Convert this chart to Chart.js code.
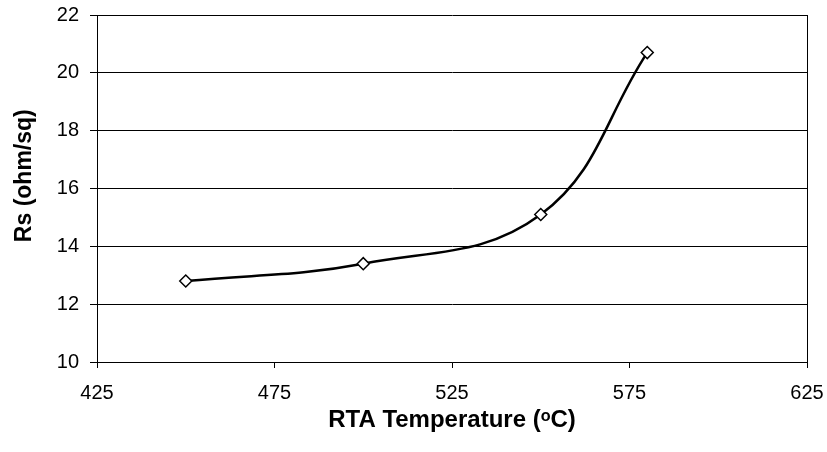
<!DOCTYPE html>
<html>
<head>
<meta charset="utf-8">
<script src="https://cdn.jsdelivr.net/npm/chart.js@4.4.1/dist/chart.umd.min.js"></script>
<style>
  html, body { margin: 0; padding: 0; background: #fff; }
  #wrap { width: 827px; height: 452px; }
</style>
</head>
<body>
<div id="wrap"><canvas id="c" width="827" height="452"></canvas></div>
<script>
const temperatures = [450, 500, 550, 580];
const rsValues = [12.8, 13.4, 15.1, 20.7];
const xTicks = [425, 475, 525, 575, 625];
const yTicks = [10, 12, 14, 16, 18, 20, 22];
const xTitle = 'RTA Temperature (ᵒC)';
const yTitle = '    Rs (ohm/sq)';

const points = temperatures.map((t, i) => ({ x: t, y: rsValues[i] }));
const font = 'Liberation Sans, Arial, Helvetica, sans-serif';

new Chart(document.getElementById('c'), {
  type: 'scatter',
  data: {
    datasets: [{
      data: points,
      showLine: true,
      borderColor: '#000',
      borderWidth: 2.5,
      tension: 0.4,
      pointStyle: 'rectRot',
      pointRadius: 6,
      pointHoverRadius: 6,
      pointBackgroundColor: '#fff',
      pointBorderColor: '#000',
      pointBorderWidth: 1.5
    }]
  },
  options: {
    responsive: false,
    animation: false,
    devicePixelRatio: 1,
    layout: { padding: { top: 15, right: 20, bottom: 0, left: 0 } },
    plugins: { legend: { display: false }, tooltip: { enabled: false } },
    scales: {
      x: {
        type: 'linear',
        min: xTicks[0],
        max: xTicks[xTicks.length - 1],
        afterBuildTicks: s => { s.ticks = xTicks.map(v => ({ value: v })); },
        afterFit: s => { s.height = 90; s.paddingLeft = 0; s.paddingRight = 0; },
        border: { display: true, color: '#000', width: 1 },
        grid: {
          drawOnChartArea: true,
          color: c => (c.tick && c.tick.value === 625) ? '#000' : 'rgba(0,0,0,0)',
          tickColor: '#000',
          tickLength: 6,
          lineWidth: 1
        },
        ticks: { color: '#000', font: { family: font, size: 20 }, padding: 13, maxRotation: 0 },
        title: {
          display: true,
          text: xTitle,
          color: '#000',
          font: { family: font, size: 24, weight: 'bold' },
          padding: { top: 0, bottom: 17 }
        }
      },
      y: {
        type: 'linear',
        min: yTicks[0],
        max: yTicks[yTicks.length - 1],
        afterBuildTicks: s => { s.ticks = yTicks.map(v => ({ value: v })); },
        afterFit: s => { s.width = 97; s.paddingTop = 0; s.paddingBottom = 0; },
        border: { display: true, color: '#000', width: 1 },
        grid: { color: '#000', tickColor: '#000', tickLength: 7, lineWidth: 1 },
        ticks: { color: '#000', font: { family: font, size: 20 }, padding: 11 },
        title: {
          display: true,
          text: yTitle,
          color: '#000',
          font: { family: font, size: 23, weight: 'bold' },
          padding: { top: 11, bottom: 0 }
        }
      }
    }
  }
});
</script>
</body>
</html>
